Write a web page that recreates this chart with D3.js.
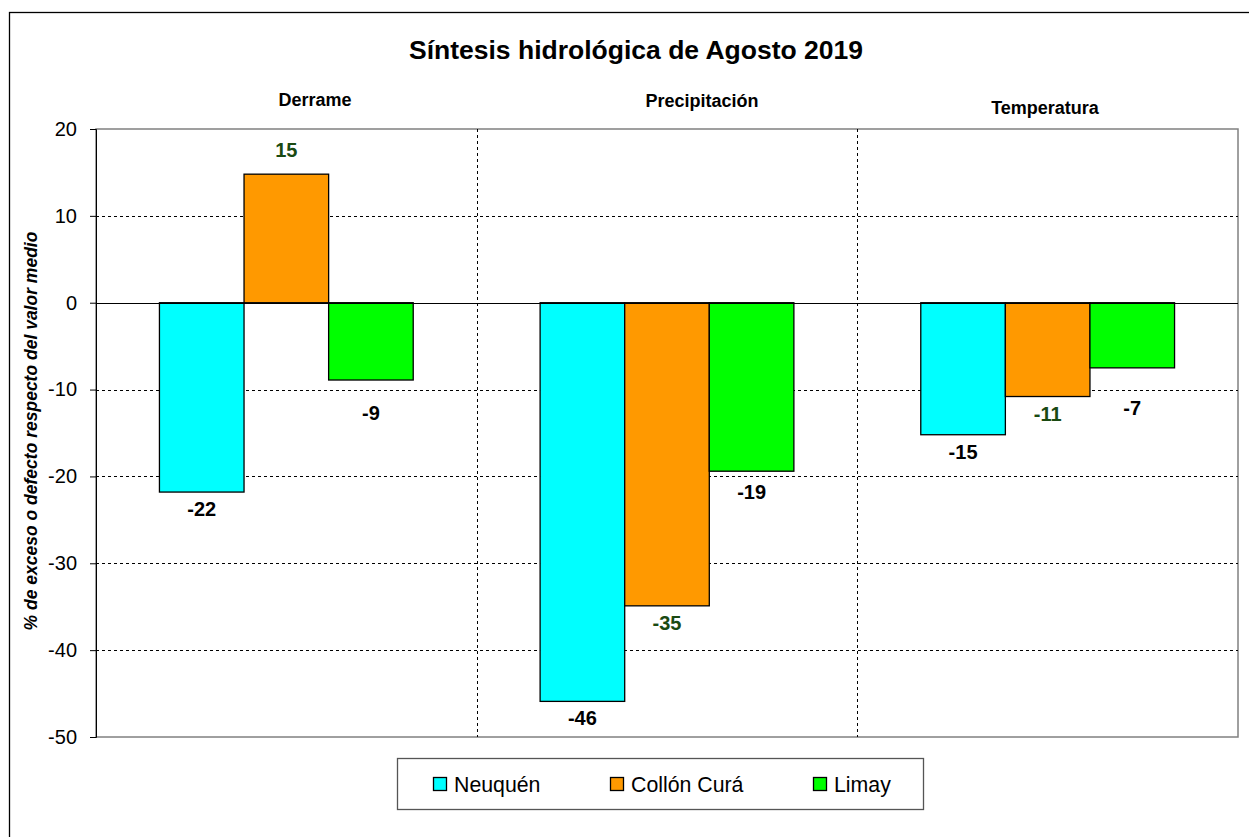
<!DOCTYPE html>
<html>
<head>
<meta charset="utf-8">
<script src="https://cdn.jsdelivr.net/npm/d3@7"></script>
<style>
  body { margin: 0; background: #fff; }
  svg { display: block; font-family: "Liberation Sans", Arial, sans-serif; }
</style>
</head>
<body>
<svg id="chart" width="1249" height="837"></svg>
<script>
var categories = ["Derrame", "Precipitación", "Temperatura"];
var series = ["Neuquén", "Collón Curá", "Limay"];
var neuquen = [-21.8, -45.9, -15.2];
var collonCura = [14.8, -34.9, -10.8];
var limay = [-8.9, -19.4, -7.5];
var labels = [["-22", "-46", "-15"], ["15", "-35", "-11"], ["-9", "-19", "-7"]];
var yTicks = [20, 10, 0, -10, -20, -30, -40, -50];

var colors = ["#00ffff", "#ff9900", "#00ff00"];
var labelColors = ["#000", "#1a4a12", "#000"];
// extra downward shift of some labels, as placed in the original
var labelNudge = [[0, 0, 0], [0, 0, 0], [16, 4, 23]];
var values = [neuquen, collonCura, limay];

var svg = d3.select("#chart");
var plotLeft = 96, plotRight = 1238, plotTop = 129, plotBottom = 737;

// outer frame
svg.append("rect")
  .attr("x", 9.5).attr("y", 12.5)
  .attr("width", 1260).attr("height", 900)
  .attr("fill", "none").attr("stroke", "#000").attr("stroke-width", 1.3);

var y = d3.scaleLinear().domain([-50, 20]).range([plotBottom, plotTop]);
var x0 = d3.scaleBand().domain(categories).range([plotLeft, plotRight]).paddingInner(0).paddingOuter(0);
var x1 = d3.scaleBand().domain(series).range([0, x0.bandwidth()]).paddingInner(0).paddingOuter(0.75);

// plot border
svg.append("rect")
  .attr("x", plotLeft).attr("y", plotTop)
  .attr("width", plotRight - plotLeft).attr("height", plotBottom - plotTop)
  .attr("fill", "none").attr("stroke", "#808080").attr("stroke-width", 1.5);

// gridlines
svg.append("g").selectAll("line")
  .data(yTicks.filter(function(d) { return d !== 20 && d !== -50 && d !== 0; }))
  .enter().append("line")
  .attr("x1", plotLeft).attr("x2", plotRight)
  .attr("y1", function(d) { return Math.round(y(d)) + 0.5; })
  .attr("y2", function(d) { return Math.round(y(d)) + 0.5; })
  .attr("stroke", "#000").attr("stroke-dasharray", "3,3");

svg.append("g").selectAll("line")
  .data(categories.slice(1))
  .enter().append("line")
  .attr("x1", function(d) { return Math.round(x0(d)) + 0.5; })
  .attr("x2", function(d) { return Math.round(x0(d)) + 0.5; })
  .attr("y1", plotTop).attr("y2", plotBottom)
  .attr("stroke", "#000").attr("stroke-dasharray", "3,3");

// bars
series.forEach(function(s, i) {
  var g = svg.append("g");
  g.selectAll("rect")
    .data(values[i])
    .enter().append("rect")
    .attr("x", function(d, j) { return x0(categories[j]) + x1(s); })
    .attr("y", function(d) { return y(Math.max(0, d)); })
    .attr("width", x1.bandwidth())
    .attr("height", function(d) { return Math.abs(y(d) - y(0)); })
    .attr("fill", colors[i])
    .attr("stroke", "#000").attr("stroke-width", 1.3);
  g.selectAll("text")
    .data(values[i])
    .enter().append("text")
    .attr("x", function(d, j) { return x0(categories[j]) + x1(s) + x1.bandwidth() / 2; })
    .attr("y", function(d, j) { return d >= 0 ? y(d) - 17 : y(d) + 24 + labelNudge[i][j]; })
    .attr("text-anchor", "middle")
    .attr("font-size", 20).attr("font-weight", "bold")
    .attr("fill", labelColors[i])
    .text(function(d, j) { return labels[i][j]; });
});

// zero line
svg.append("line")
  .attr("x1", plotLeft).attr("x2", plotRight)
  .attr("y1", Math.round(y(0)) + 0.5).attr("y2", Math.round(y(0)) + 0.5)
  .attr("stroke", "#000").attr("stroke-width", 1);

// y axis
var yAxis = svg.append("g")
  .attr("transform", "translate(" + plotLeft + ",0)")
  .call(d3.axisLeft(y).tickValues(yTicks).tickSize(6).tickPadding(13)
    .tickFormat(function(d) { return String(d); }));
yAxis.select(".domain").attr("stroke", "#000");
yAxis.selectAll("text").attr("font-size", 20).attr("font-family", "Liberation Sans, Arial, sans-serif").attr("fill", "#000");

svg.append("text")
  .attr("transform", "translate(37," + 431 + ") rotate(-90)")
  .attr("text-anchor", "middle")
  .attr("font-size", 17.5).attr("font-weight", "bold").attr("font-style", "italic")
  .text("% de exceso o defecto respecto del valor medio");

// titles
svg.append("text")
  .attr("x", 636).attr("y", 59)
  .attr("text-anchor", "middle")
  .attr("font-size", 26.5).attr("font-weight", "bold")
  .text("Síntesis hidrológica de Agosto 2019");

var subX = [315, 702, 1045], subY = [106, 107, 114];
svg.append("g").selectAll("text")
  .data(categories)
  .enter().append("text")
  .attr("x", function(d, i) { return subX[i]; })
  .attr("y", function(d, i) { return subY[i]; })
  .attr("text-anchor", "middle")
  .attr("font-size", 18).attr("font-weight", "bold")
  .text(function(d) { return d; });

// legend
var legend = svg.append("g");
legend.append("rect")
  .attr("x", 397.5).attr("y", 758.5).attr("width", 526).attr("height", 51)
  .attr("fill", "#fff").attr("stroke", "#555").attr("stroke-width", 1.3);
var legX = [433, 610, 813];
var item = legend.selectAll("g.item")
  .data(series)
  .enter().append("g")
  .attr("transform", function(d, i) { return "translate(" + legX[i] + ",777)"; });
item.append("rect")
  .attr("x", 0.5).attr("y", 0.5).attr("width", 13).attr("height", 13)
  .attr("fill", function(d, i) { return colors[i]; })
  .attr("stroke", "#000").attr("stroke-width", 1.3);
item.append("text")
  .attr("x", 21).attr("y", 15)
  .attr("font-size", 21.3)
  .text(function(d) { return d; });
</script>
</body>
</html>
